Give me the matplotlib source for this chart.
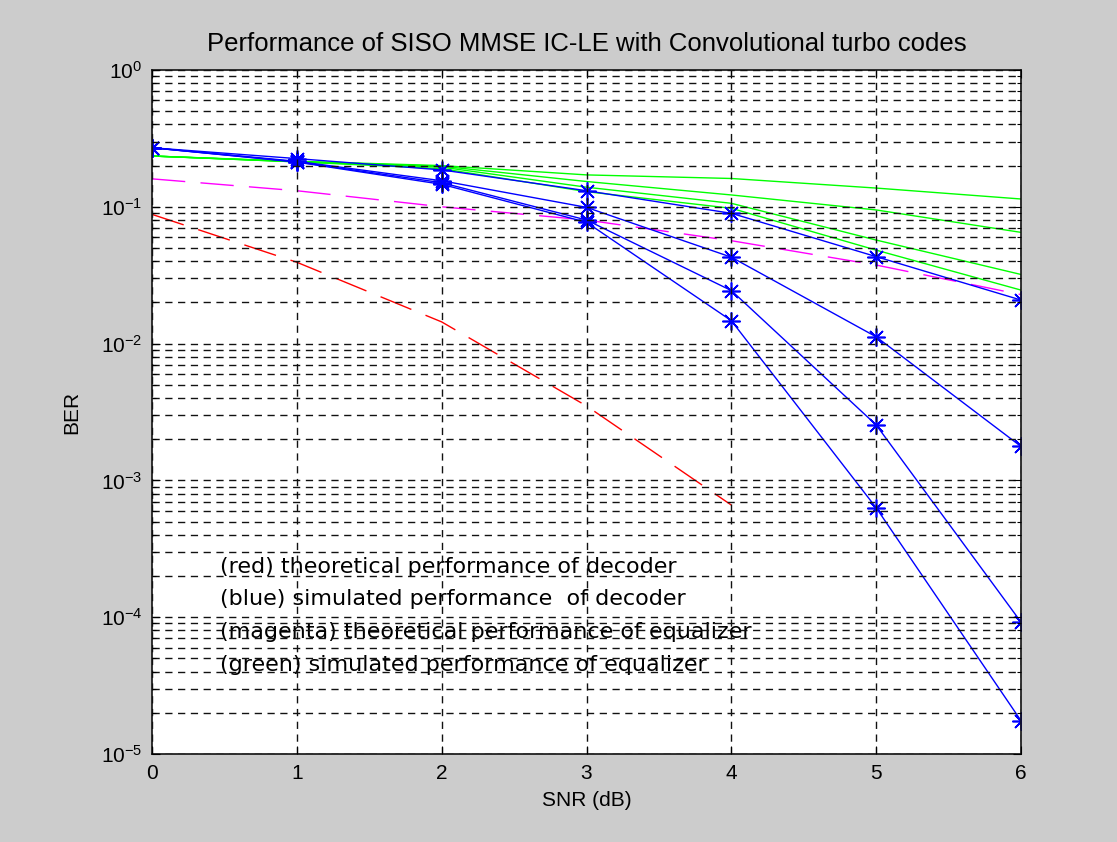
import matplotlib
matplotlib.use("Agg")
import matplotlib.pyplot as plt
from matplotlib.ticker import LogLocator, NullFormatter, FixedLocator

# ---- data ----
snr = [0, 1, 2, 3, 4, 5, 6]
snr_theory_dec = [0, 1, 2, 3, 4]

ber_theory_dec = [0.088, 0.0393, 0.0144, 0.0035, 0.00066]          # red
ber_theory_eq = [0.160, 0.131, 0.100, 0.080, 0.0565, 0.0375, 0.0228]  # magenta

ber_sim_dec_it1 = [0.27, 0.225, 0.186, 0.131, 0.0896, 0.0432, 0.0208]
ber_sim_dec_it2 = [0.27, 0.215, 0.155, 0.099, 0.0428, 0.0112, 0.00177]
ber_sim_dec_it3 = [0.27, 0.213, 0.150, 0.080, 0.0244, 0.00254, 9.2e-5]
ber_sim_dec_it4 = [0.27, 0.212, 0.146, 0.077, 0.0147, 6.3e-4, 1.75e-5]

ber_sim_eq_it1 = [0.235, 0.215, 0.200, 0.171, 0.161, 0.137, 0.114]
ber_sim_eq_it2 = [0.235, 0.214, 0.198, 0.153, 0.122, 0.0948, 0.0650]
ber_sim_eq_it3 = [0.235, 0.213, 0.195, 0.139, 0.106, 0.0571, 0.0320]
ber_sim_eq_it4 = [0.235, 0.213, 0.190, 0.129, 0.0975, 0.0482, 0.0246]

x_ticks = [0, 1, 2, 3, 4, 5, 6]
notes = ["(red) theoretical performance of decoder",
         "(blue) simulated performance  of decoder",
         "(magenta) theoretical performance of equalizer",
         "(green) simulated performance of equalizer"]

title = "Performance of SISO MMSE IC-LE with Convolutional turbo codes"

# ---- style ----
plt.rcParams['font.family'] = ['Liberation Sans', 'DejaVu Sans']
plt.rcParams['mathtext.default'] = 'regular'
plt.rcParams['lines.scale_dashes'] = False

fig = plt.figure(figsize=(11.17, 8.42), dpi=100, facecolor='#cccccc')
ax = fig.add_axes([0.1361, 0.1045, 0.778, 0.8124])
ax.set_facecolor('white')

long_dash = (0, (24, 11))
ax.plot(snr_theory_dec, ber_theory_dec, color='#ff0000', lw=1.0, linestyle=long_dash)
ax.plot(snr, ber_theory_eq, color='#ff00ff', lw=1.0, linestyle=long_dash)
for g in [ber_sim_eq_it1, ber_sim_eq_it2, ber_sim_eq_it3, ber_sim_eq_it4]:
    ax.plot(snr, g, color='#00ff00', lw=1.0)
for b in [ber_sim_dec_it1, ber_sim_dec_it2, ber_sim_dec_it3, ber_sim_dec_it4]:
    ax.plot(snr, b, color='#0000ff', lw=1.0, marker=(8, 2, 0), markersize=13,
            markeredgewidth=1.2, markeredgecolor='#0000ff')

ax.set_yscale('log')
ax.set_xlim(0, 6)
ax.set_ylim(1e-5, 1)
ax.xaxis.set_major_locator(FixedLocator(x_ticks))
ax.yaxis.set_major_locator(LogLocator(base=10, numticks=10))
ax.yaxis.set_minor_locator(LogLocator(base=10, subs=range(2, 10), numticks=20))
ax.yaxis.set_minor_formatter(NullFormatter())

ax.set_axisbelow(False)
grid_kw = dict(color='#111111', linewidth=1.0, linestyle=(0, (5.2, 4.0)))
ax.grid(True, which='major', axis='both', **grid_kw)
ax.grid(True, which='minor', axis='y', **grid_kw)

ax.tick_params(which='both', direction='in', top=True, right=True,
               labelsize=15, color='black', pad=7)
ax.tick_params(which='major', length=6, width=0.8)
ax.tick_params(which='minor', length=3, width=0.8)
for s in ax.spines.values():
    s.set_linewidth(1.2)
    s.set_color('#111111')

ax.set_title(title, fontsize=18.5, pad=14)
ax.set_xlabel("SNR (dB)", fontsize=15, labelpad=6)
ax.set_ylabel("BER", fontsize=15, labelpad=14)

# annotations in the lower left (axes fraction coordinates)
note_y = [0.2738, 0.2270, 0.1788, 0.1306]
for txt, yy in zip(notes, note_y):
    ax.text(0.0782, yy, txt, transform=ax.transAxes, fontsize=16,
            family=['DejaVu Sans'], va='center', ha='left', color='black',
            zorder=1)

fig.savefig("out.png", dpi=100, facecolor=fig.get_facecolor())
